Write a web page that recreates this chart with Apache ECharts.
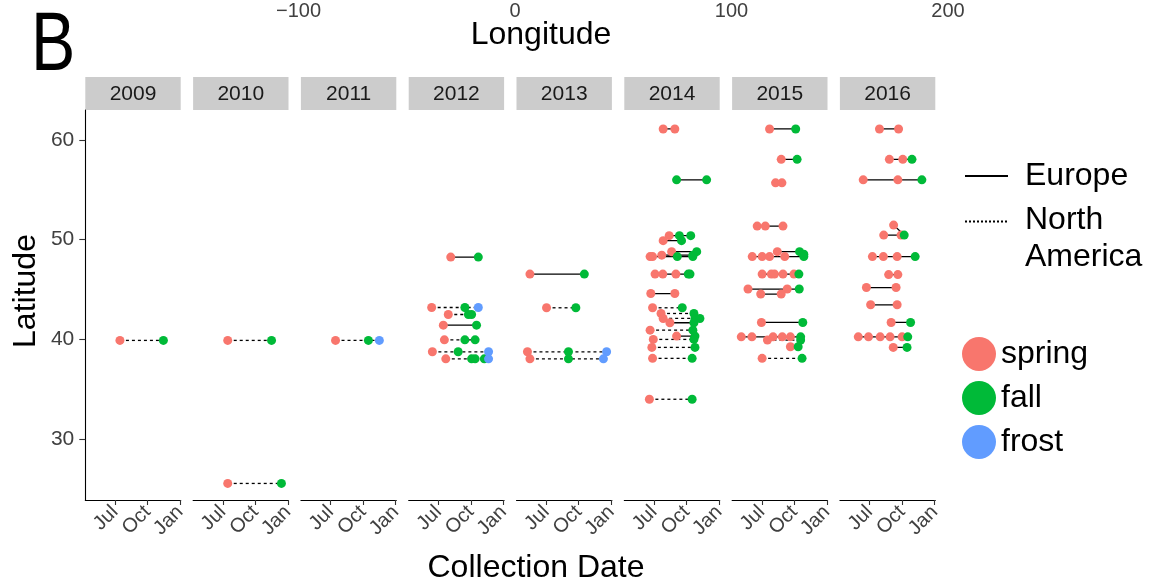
<!DOCTYPE html>
<html>
<head>
<meta charset="utf-8">
<title>Collection sites by year</title>
<script src="https://cdn.jsdelivr.net/npm/echarts@6/dist/echarts.min.js"></script>
<style>
  html, body { margin: 0; padding: 0; background: #fff; }
  #chart { width: 1151px; height: 580px; }
</style>
</head>
<body>
<div id="chart"></div>
<script>
// Facet years
const years = [2009, 2010, 2011, 2012, 2013, 2014, 2015, 2016];

// Season colours
const seasons = ['spring', 'fall', 'frost'];
const seasonColors = ['#F8766D', '#00BA38', '#619CFF'];

// Date axis ticks (day of year; 366 = 1 Jan of the following year)
const dateTicks = [182, 274, 366];
const dateTickLabels = ['Jul', 'Oct', 'Jan'];

// Latitude ticks
const latTicks = [30, 40, 50, 60];

// Longitude ticks (top axis)
const lonTicks = [-100, 0, 100, 200];

// Sampling sites per year: [region, latitude, [[day of year, season, (optional latitude)], ...]]
const tracks2009 = [
  ['NA', 39.9, [[196, 'spring'], [319, 'fall']]]
];
const tracks2010 = [
  ['NA', 39.9, [[196, 'spring'], [320, 'fall']]],
  ['NA', 25.56, [[196, 'spring'], [348, 'fall']]]
];
const tracks2011 = [
  ['NA', 39.9, [[196, 'spring'], [289, 'fall'], [320, 'frost']]]
];
const tracks2012 = [
  ['EU', 48.25, [[217, 'spring'], [295, 'fall']]],
  ['NA', 43.2, [[163, 'spring'], [257, 'fall'], [295, 'frost']]],
  ['NA', 42.5, [[210, 'spring'], [267, 'fall'], [276, 'fall']]],
  ['EU', 41.43, [[196, 'spring'], [290, 'fall']]],
  ['NA', 39.96, [[199, 'spring'], [257, 'fall'], [286, 'fall']]],
  ['NA', 38.76, [[165, 'spring'], [238, 'fall'], [324, 'frost']]],
  ['NA', 38.05, [[203, 'spring'], [276, 'fall'], [286, 'fall'], [312, 'fall'], [324, 'frost']]]
];
const tracks2013 = [
  ['EU', 46.55, [[136, 'spring'], [290, 'fall']]],
  ['NA', 43.17, [[183, 'spring'], [266, 'fall']]],
  ['NA', 38.76, [[129, 'spring'], [245, 'fall'], [353, 'frost']]],
  ['NA', 38.05, [[136, 'spring'], [245, 'fall'], [344, 'frost']]]
];
const tracks2014 = [
  ['EU', 61.1, [[208, 'spring'], [241, 'spring']]],
  ['EU', 56.0, [[246, 'fall'], [331, 'fall']]],
  ['EU', 50.4, [[225, 'spring'], [254, 'fall'], [286, 'fall']]],
  ['EU', 49.9, [[208, 'spring'], [260, 'fall']]],
  ['EU', 48.8, [[232, 'spring'], [303, 'fall']]],
  ['EU', 48.45, [[204, 'spring'], [292, 'fall']]],
  ['EU', 48.3, [[171, 'spring'], [178, 'spring'], [248, 'fall'], [292, 'fall']]],
  ['EU', 46.55, [[185, 'spring'], [207, 'spring'], [244, 'spring'], [279, 'fall'], [284, 'fall']]],
  ['EU', 44.6, [[173, 'spring'], [241, 'spring']]],
  ['NA', 43.17, [[178, 'spring'], [262, 'fall']]],
  ['NA', 42.6, [[202, 'spring'], [295, 'fall']]],
  ['NA', 42.1, [[208, 'spring'], [298, 'fall'], [312, 'fall']]],
  ['EU', 41.67, [[227, 'spring'], [295, 'fall']]],
  ['NA', 40.93, [[171, 'spring'], [292, 'fall']]],
  ['EU', 40.33, [[246, 'spring'], [298, 'fall']]],
  ['NA', 40.0, [[180, 'spring'], [295, 'fall']]],
  ['NA', 39.2, [[176, 'spring'], [298, 'fall']]],
  ['NA', 38.1, [[178, 'spring'], [290, 'fall']]],
  ['NA', 34.0, [[169, 'spring'], [290, 'fall']]]
];
const tracks2015 = [
  ['EU', 61.1, [[204, 'spring'], [278, 'fall']]],
  ['EU', 58.05, [[237, 'spring'], [282, 'fall']]],
  ['EU', 55.7, [[221, 'spring'], [239, 'spring']]],
  ['EU', 51.36, [[169, 'spring'], [192, 'spring'], [242, 'spring']]],
  ['EU', 48.8, [[226, 'spring'], [289, 'fall'], [301, 'fall', 48.55]]],
  ['EU', 48.3, [[155, 'spring'], [183, 'spring'], [204, 'spring'], [247, 'spring'], [301, 'fall']]],
  ['EU', 46.55, [[183, 'spring'], [209, 'spring'], [218, 'spring'], [242, 'spring'], [273, 'spring'], [287, 'fall']]],
  ['EU', 45.05, [[143, 'spring'], [254, 'spring'], [288, 'fall']]],
  ['EU', 44.55, [[179, 'spring'], [237, 'spring']]],
  ['EU', 41.7, [[181, 'spring'], [298, 'fall']]],
  ['EU', 40.26, [[124, 'spring'], [154, 'spring'], [214, 'spring'], [240, 'spring'], [263, 'spring'], [292, 'fall']]],
  ['NA', 39.93, [[198, 'spring'], [292, 'fall']]],
  ['EU', 39.26, [[263, 'spring'], [285, 'fall']]],
  ['NA', 38.1, [[183, 'spring'], [296, 'fall']]]
];
const tracks2016 = [
  ['EU', 61.1, [[210, 'spring'], [264, 'spring']]],
  ['EU', 58.05, [[238, 'spring'], [276, 'spring'], [302, 'fall']]],
  ['EU', 56.0, [[164, 'spring'], [262, 'spring'], [330, 'fall']]],
  ['EU', 51.46, [[250, 'spring'], [280, 'fall', 50.46]]],
  ['EU', 50.46, [[222, 'spring'], [271, 'spring']]],
  ['EU', 48.3, [[190, 'spring'], [221, 'spring'], [260, 'spring'], [311, 'fall']]],
  ['EU', 46.5, [[236, 'spring'], [262, 'spring']]],
  ['EU', 45.2, [[173, 'spring'], [257, 'spring']]],
  ['EU', 43.47, [[185, 'spring'], [260, 'spring']]],
  ['EU', 41.7, [[243, 'spring'], [298, 'fall']]],
  ['EU', 40.26, [[150, 'spring'], [179, 'spring'], [212, 'spring'], [240, 'spring'], [274, 'spring'], [290, 'fall']]],
  ['EU', 39.2, [[249, 'spring'], [288, 'fall']]]
];
const tracksByYear = [tracks2009, tracks2010, tracks2011, tracks2012, tracks2013, tracks2014, tracks2015, tracks2016];

// Panel layout
const PANEL_LEFT = 85.3;
const PANEL_STEP = 107.8;
const PANEL_W = 95.4;
const PLOT_TOP = 110;
const PLOT_H = 390;
const STRIP_TOP = 77;
const STRIP_H = 33;

const FONT = '"Liberation Sans", Arial, Helvetica, sans-serif';
const TICK_COLOR = '#404040';

const grids = [];
const xAxes = [];
const yAxes = [];
const series = [];
const graphics = [];

years.forEach((year, i) => {
  const left = PANEL_LEFT + i * PANEL_STEP;
  grids.push({ left: left, top: PLOT_TOP, width: PANEL_W, height: PLOT_H, containLabel: false });
  xAxes.push({
    type: 'value', gridIndex: i, min: 98, max: 368,
    splitLine: { show: false },
    axisLine: { show: true, onZero: false, lineStyle: { color: '#000', width: 1.1 } },
    axisTick: { show: true, length: 5, customValues: dateTicks, lineStyle: { color: '#333', width: 1.1 } },
    axisLabel: {
      show: true, rotate: 45, margin: 9, fontSize: 20, fontFamily: FONT, color: TICK_COLOR,
      customValues: dateTicks,
      formatter: v => dateTickLabels[dateTicks.indexOf(v)] || ''
    }
  });
  const first = i === 0;
  yAxes.push({
    type: 'value', gridIndex: i, min: 23.9, max: 63.0,
    splitLine: { show: false },
    axisLine: { show: first, onZero: false, lineStyle: { color: '#000', width: 1.1 } },
    axisTick: { show: first, length: 6, customValues: latTicks, lineStyle: { color: '#333', width: 1.1 } },
    axisLabel: { show: first, margin: 11, fontSize: 21, fontFamily: FONT, color: TICK_COLOR, customValues: latTicks }
  });

  // Site connections
  tracksByYear[i].forEach(track => {
    const region = track[0], lat = track[1], pts = track[2];
    series.push({
      type: 'line', name: region === 'EU' ? 'Europe' : 'North America',
      xAxisIndex: i, yAxisIndex: i, silent: true, symbol: 'none', z: 2,
      data: pts.map(p => [p[0], p.length > 2 ? p[2] : lat]),
      lineStyle: { color: '#000', width: 1.3, type: region === 'EU' ? 'solid' : [3, 3] }
    });
  });

  // Collection points by season
  seasons.forEach((s, k) => {
    const data = [];
    tracksByYear[i].forEach(track => {
      track[2].forEach(p => { if (p[1] === s) data.push([p[0], p.length > 2 ? p[2] : track[1]]); });
    });
    series.push({
      type: 'scatter', name: s, xAxisIndex: i, yAxisIndex: i, z: 3,
      symbol: 'circle', symbolSize: 9, data: data,
      itemStyle: { color: seasonColors[k], opacity: 1 }
    });
  });

  // Facet strip
  graphics.push({
    type: 'rect', silent: true,
    shape: { x: left, y: STRIP_TOP, width: PANEL_W, height: STRIP_H },
    style: { fill: '#CCCCCC' }
  });
  graphics.push({
    type: 'text', silent: true, x: left + PANEL_W / 2, y: STRIP_TOP + STRIP_H / 2 + 1,
    style: { text: String(year), font: '21px ' + FONT, fill: '#1A1A1A', textAlign: 'center', textVerticalAlign: 'middle' }
  });
});

// Longitude scale across the top
const lonIndex = years.length;
grids.push({ left: PANEL_LEFT, top: -2, width: 884.4, height: 1 });
xAxes.push({
  type: 'value', gridIndex: lonIndex, min: -198.5, max: 210,
  splitLine: { show: false }, axisLine: { show: false }, axisTick: { show: false },
  axisLabel: {
    show: true, margin: 2, fontSize: 20, fontFamily: FONT, color: TICK_COLOR,
    customValues: lonTicks,
    formatter: v => (v < 0 ? '\u2212' + Math.abs(v) : String(v))
  }
});
yAxes.push({ type: 'value', gridIndex: lonIndex, show: false });

// Titles and region key
const titleFont = '32px ' + FONT;
graphics.push(
  { type: 'text', silent: true, x: 31, y: 47, scaleX: 0.8,
    style: { text: 'B', font: '83px ' + FONT, fill: '#000', textAlign: 'left', textVerticalAlign: 'middle' } },
  { type: 'text', silent: true, x: 541, y: 35,
    style: { text: 'Longitude', font: titleFont, fill: '#000', textAlign: 'center', textVerticalAlign: 'middle' } },
  { type: 'text', silent: true, x: 536, y: 568,
    style: { text: 'Collection Date', font: titleFont, fill: '#000', textAlign: 'center', textVerticalAlign: 'middle' } },
  { type: 'text', silent: true, x: 26, y: 291, rotation: Math.PI / 2,
    style: { text: 'Latitude', font: titleFont, fill: '#000', textAlign: 'center', textVerticalAlign: 'middle' } },
  { type: 'line', silent: true, shape: { x1: 965, y1: 176, x2: 1008, y2: 176 },
    style: { stroke: '#000', lineWidth: 2.2 } },
  { type: 'line', silent: true, shape: { x1: 965, y1: 221.5, x2: 1008, y2: 221.5 },
    style: { stroke: '#000', lineWidth: 2, lineDash: [2, 2] } },
  { type: 'text', silent: true, x: 1025, y: 176,
    style: { text: 'Europe', font: titleFont, fill: '#000', textAlign: 'left', textVerticalAlign: 'middle' } },
  { type: 'text', silent: true, x: 1025, y: 220,
    style: { text: 'North', font: titleFont, fill: '#000', textAlign: 'left', textVerticalAlign: 'middle' } },
  { type: 'text', silent: true, x: 1025, y: 257,
    style: { text: 'America', font: titleFont, fill: '#000', textAlign: 'left', textVerticalAlign: 'middle' } }
);

const chart = echarts.init(document.getElementById('chart'), null, { renderer: 'canvas' });
chart.setOption({
  animation: false,
  backgroundColor: '#fff',
  grid: grids,
  xAxis: xAxes,
  yAxis: yAxes,
  legend: {
    data: seasons, orient: 'vertical', left: 962, top: 337, padding: 0,
    icon: 'circle', itemWidth: 34, itemHeight: 34, itemGap: 10,
    selectedMode: false,
    textStyle: { fontSize: 32, fontFamily: FONT, color: '#000' }
  },
  graphic: graphics,
  series: series
});
</script>
</body>
</html>
